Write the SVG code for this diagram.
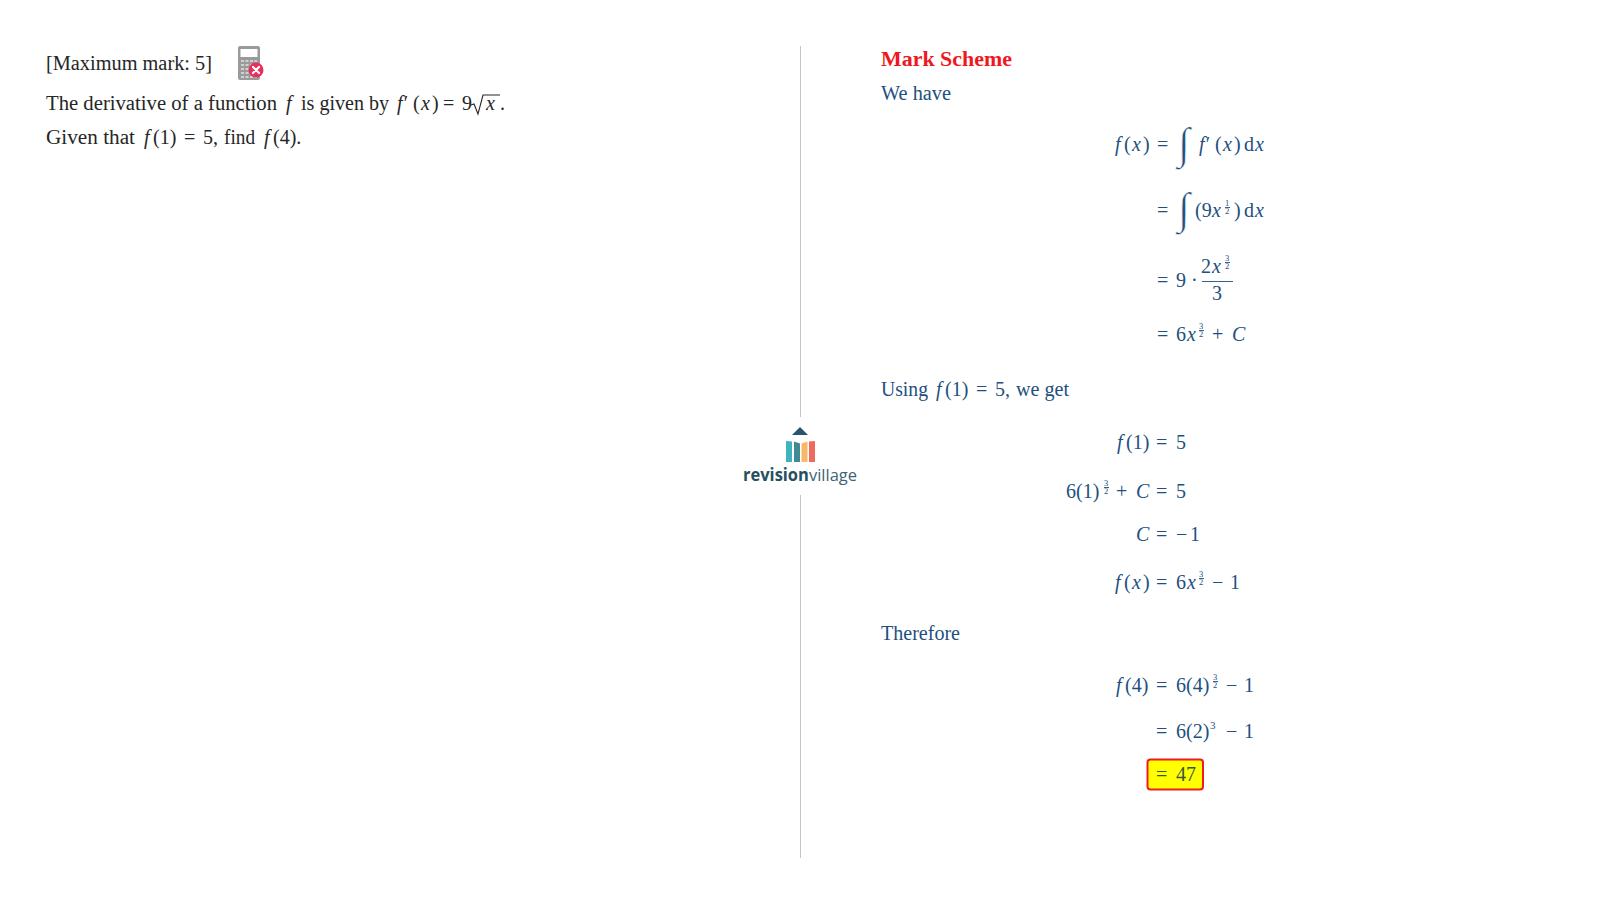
<svg xmlns="http://www.w3.org/2000/svg" width="1600" height="901" viewBox="0 0 1600 901">
<style>
text{font-family:"Liberation Serif","Times New Roman",serif;font-size:20px;fill:#22507e}
.k{fill:#262626}
.i{font-style:italic}
.s{font-size:11px}
.t{font-size:8.500px}
.int{font-size:44px;font-style:italic;stroke:#fff;stroke-width:.7}
.frac{stroke:#22507e;stroke-width:.9;fill:none}
</style>
<rect width="1600" height="901" fill="#fff"/>
<g id="divider"><line x1="800.5" y1="46" x2="800.5" y2="417" stroke="#c4c4c4"/><line x1="800.5" y1="495" x2="800.5" y2="858" stroke="#c4c4c4"/></g>
<g id="question">
<text class="k" x="46" y="70" textLength="166" lengthAdjust="spacingAndGlyphs">[Maximum mark: 5]</text>
<text class="k" x="46" y="110" textLength="231" lengthAdjust="spacingAndGlyphs">The derivative of a function</text>
<text class="k i" x="286" y="110">f</text>
<text class="k" x="301" y="110" textLength="88" lengthAdjust="spacingAndGlyphs">is given by</text>
<text class="k i" x="397" y="110">f′</text>
<text class="k" x="413" y="110">(</text><text class="k i" x="421" y="110">x</text><text class="k" x="432" y="110">)</text><text class="k" x="443" y="110">=</text><text class="k" x="462" y="110">9</text>
<path d="M471 105l3-1 4 10 5-19h17" fill="none" stroke="#262626" stroke-width="1.100"/>
<text class="k i" x="486" y="110">x</text><text class="k" x="500" y="110">.</text>
<text class="k" x="46" y="144" textLength="89" lengthAdjust="spacingAndGlyphs">Given that</text>
<text class="k i" x="144" y="144">f</text><text class="k" x="153" y="144">(1)</text><text class="k" x="184" y="144">=</text><text class="k" x="203" y="144">5,</text>
<text class="k" x="224" y="144" textLength="31" lengthAdjust="spacingAndGlyphs">find</text>
<text class="k i" x="264" y="144">f</text><text class="k" x="273" y="144">(4).</text>
</g>
<g id="calculator">
<rect x="238" y="46" width="22" height="34" rx="2" fill="#9a9a9a"/>
<rect x="240.500" y="49" width="17" height="8" fill="#fff"/>
<path d="M241 61h16M241 65h16M241 69h16M241 73h16M241 77h16" stroke="#e4e4e4" stroke-width="1.500" stroke-dasharray="3 1.500"/>
<circle cx="256" cy="70" r="7.500" fill="#e8305a"/>
<path d="M253 67l6 6m0-6l-6 6" stroke="#fff" stroke-width="2.200" stroke-linecap="round"/>
</g>
<g id="logo">
<path d="M792 435l8-8 8 8z" fill="#27556b"/>
<path d="M786 441l6 .5V462h-6z" fill="#3fb4bd"/>
<path d="M794 441.500l6 2V462h-6z" fill="#3e8b95"/>
<path d="M801.500 443.500l6-2V462h-6z" fill="#f6b968"/>
<path d="M809 441.500l6-.5V462h-6z" fill="#ee6a5c"/>
<text x="743" y="481" textLength="114" lengthAdjust="spacingAndGlyphs" style="font-family:'Open Sans','Liberation Sans',sans-serif;font-size:17px;fill:#3c6473"><tspan style="font-weight:700;fill:#27505f">revision</tspan>village</text>
</g>
<g id="scheme-heading"><text x="881" y="66" style="font-weight:700;fill:#f01820" textLength="131" lengthAdjust="spacingAndGlyphs">Mark Scheme</text></g>
<g id="mark-scheme">
<text x="881" y="100" textLength="70" lengthAdjust="spacingAndGlyphs">We have</text>
<text class="i" x="1115" y="151">f</text><text x="1124" y="151">(</text><text class="i" x="1132" y="151">x</text><text x="1143" y="151">)</text><text x="1157" y="151">=</text>
<text class="int" x="1178" y="158">∫</text>
<text class="i" x="1199" y="151">f′</text><text x="1215" y="151">(</text><text class="i" x="1223" y="151">x</text><text x="1234" y="151">)</text><text x="1244" y="151">d</text><text class="i" x="1255" y="151">x</text>
<text x="1157" y="217">=</text>
<text class="int" x="1178" y="223">∫</text>
<text x="1195" y="217">(9</text><text class="i" x="1212" y="217">x</text>
<text class="t" x="1225" y="206">1</text><line class="frac" x1="1225" y1="207.500" x2="1230" y2="207.500"/><text class="t" x="1225" y="214">2</text>
<text x="1234" y="217">)</text><text x="1244" y="217">d</text><text class="i" x="1255" y="217">x</text>
<text x="1157" y="287">=</text><text x="1176" y="287">9</text><text x="1191" y="287">·</text>
<text x="1201" y="273">2</text><text class="i" x="1212" y="273">x</text>
<text class="t" x="1225" y="261">3</text><line class="frac" x1="1225" y1="262.500" x2="1230" y2="262.500"/><text class="t" x="1225" y="269">2</text>
<line class="frac" x1="1202" y1="281.500" x2="1233" y2="281.500"/>
<text x="1212" y="300">3</text>
<text x="1157" y="341">=</text><text x="1176" y="341">6</text><text class="i" x="1187" y="341">x</text>
<text class="t" x="1199" y="329">3</text><line class="frac" x1="1199" y1="330.500" x2="1204" y2="330.500"/><text class="t" x="1199" y="337">2</text>
<text x="1212" y="341">+</text><text class="i" x="1232" y="341">C</text>
<text x="881" y="396" textLength="47" lengthAdjust="spacingAndGlyphs">Using</text>
<text class="i" x="936" y="396">f</text><text x="945" y="396">(1)</text><text x="976" y="396">=</text><text x="995" y="396">5,</text>
<text x="1016" y="396" textLength="53" lengthAdjust="spacingAndGlyphs">we get</text>
<text class="i" x="1117" y="449">f</text><text x="1126" y="449">(1)</text><text x="1156" y="449">=</text><text x="1176" y="449">5</text>
<text x="1066" y="498">6(1)</text>
<text class="t" x="1104" y="486">3</text><line class="frac" x1="1104" y1="487.500" x2="1109" y2="487.500"/><text class="t" x="1104" y="494">2</text>
<text x="1116" y="498">+</text><text class="i" x="1136" y="498">C</text><text x="1156" y="498">=</text><text x="1176" y="498">5</text>
<text class="i" x="1136" y="541">C</text><text x="1156" y="541">=</text><text x="1176" y="541">−</text><text x="1190" y="541">1</text>
<text class="i" x="1115" y="589">f</text><text x="1124" y="589">(</text><text class="i" x="1132" y="589">x</text><text x="1143" y="589">)</text><text x="1156" y="589">=</text><text x="1176" y="589">6</text><text class="i" x="1187" y="589">x</text>
<text class="t" x="1199" y="577">3</text><line class="frac" x1="1199" y1="578.500" x2="1204" y2="578.500"/><text class="t" x="1199" y="585">2</text>
<text x="1212" y="589">−</text><text x="1230" y="589">1</text>
<text x="881" y="640" textLength="79" lengthAdjust="spacingAndGlyphs">Therefore</text>
<text class="i" x="1116" y="692">f</text><text x="1125" y="692">(4)</text><text x="1156" y="692">=</text><text x="1176" y="692">6(4)</text>
<text class="t" x="1213" y="680">3</text><line class="frac" x1="1213" y1="681.500" x2="1218" y2="681.500"/><text class="t" x="1213" y="688">2</text>
<text x="1226" y="692">−</text><text x="1244" y="692">1</text>
<text x="1156" y="738">=</text><text x="1176" y="738">6(2)</text><text class="s" x="1210" y="729">3</text><text x="1226" y="738">−</text><text x="1244" y="738">1</text>
</g>
<g id="answer">
<rect x="1147.500" y="759.500" width="55.500" height="30" rx="3" fill="#ffff00" stroke="#ee1c25" stroke-width="2"/>
<text x="1156" y="781" style="fill:#35583c">=</text><text x="1176" y="781" style="fill:#35583c">47</text>
</g>
</svg>
